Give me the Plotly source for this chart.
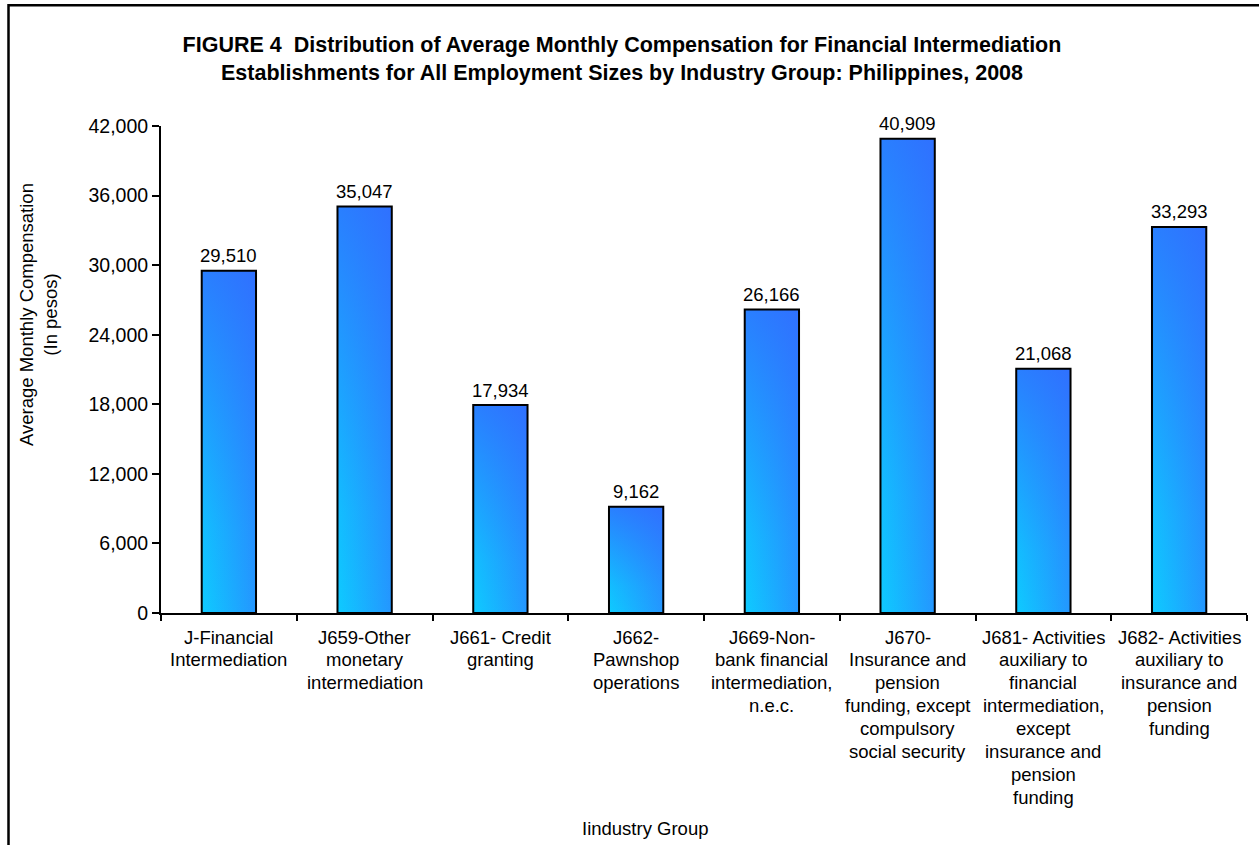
import plotly.graph_objects as go

# Industry groups (line breaks as printed under each bar)
categories = [
    "J-Financial<br>Intermediation",
    "J659-Other<br>monetary<br>intermediation",
    "J661- Credit<br>granting",
    "J662-<br>Pawnshop<br>operations",
    "J669-Non-<br>bank financial<br>intermediation,<br>n.e.c.",
    "J670-<br>Insurance and<br>pension<br>funding, except<br>compulsory<br>social security",
    "J681- Activities<br>auxiliary to<br>financial<br>intermediation,<br>except<br>insurance and<br>pension<br>funding",
    "J682- Activities<br>auxiliary to<br>insurance and<br>pension<br>funding",
]
compensation = [29510, 35047, 17934, 9162, 26166, 40909, 21068, 33293]
y_ticks = [0, 6000, 12000, 18000, 24000, 30000, 36000, 42000]

title_lines = [
    "FIGURE 4\u00a0\u00a0Distribution of Average Monthly Compensation for Financial Intermediation",
    "Establishments for All Employment Sizes by Industry Group: Philippines, 2008",
]
y_title = "Average Monthly Compensation<br>(In pesos)"
x_title = "Iindustry Group"

# Canvas and plot-area geometry (pixels)
W, H = 1259, 845
M_L, M_R, M_T, M_B = 161, 12, 126, 232
PW = W - M_L - M_R
PH = H - M_T - M_B

FONT = "Liberation Sans, Arial, sans-serif"
FS = 18.5
BAR_W = 0.4
C_LOW = "#0ecbff"
C_MID = "#2496ff"


def paper_x(px):
    return (px - M_L) / PW


def paper_y(py):
    return (H - M_B - py) / PH


fig = go.Figure()

for i, v in enumerate(compensation):
    xs = [i - BAR_W / 2, i - BAR_W / 2, i + BAR_W / 2, i + BAR_W / 2, i - BAR_W / 2]
    ys = [0, v, v, 0, 0]
    # base layer: left-to-right shading
    fig.add_trace(go.Scatter(
        x=xs, y=ys, mode="lines", fill="toself",
        line=dict(width=0, color="rgba(0,0,0,0)"),
        fillgradient=dict(type="horizontal",
                          colorscale=[[0, C_LOW], [1, C_MID]]),
        hoverinfo="skip", showlegend=False,
    ))
    # top layer: bottom-to-top deepening plus the outline
    fig.add_trace(go.Scatter(
        x=xs, y=ys, mode="lines", fill="toself",
        line=dict(width=2, color="black"),
        fillgradient=dict(type="vertical",
                          colorscale=[[0, "rgba(52,98,255,0)"],
                                      [0.25, "rgba(52,98,255,0.12)"],
                                      [1, "rgba(52,98,255,0.72)"]]),
        name=categories[i].replace("<br>", " "),
        hovertemplate="%{text}<extra></extra>",
        text=[f"{v:,}"] * 5,
        showlegend=False,
    ))

annotations = []

# value labels above bars
for i, v in enumerate(compensation):
    annotations.append(dict(
        x=i, y=v, xref="x", yref="y", text=f"{v:,}", showarrow=False,
        xanchor="center", yanchor="middle", yshift=15,
        font=dict(family=FONT, size=FS, color="black"),
    ))

# category labels, one annotation per printed line
LINE_GAP = 22.9
FIRST_LINE = 637
for i, label in enumerate(categories):
    for k, line in enumerate(label.split("<br>")):
        annotations.append(dict(
            x=i, xref="x", y=paper_y(FIRST_LINE + k * LINE_GAP), yref="paper",
            text=line, showarrow=False, xanchor="center", yanchor="middle",
            font=dict(family=FONT, size=FS, color="black"),
        ))

# axis titles
annotations.append(dict(
    x=paper_x(38), y=paper_y(315), xref="paper", yref="paper",
    text=y_title, textangle=-90, showarrow=False,
    xanchor="center", yanchor="middle",
    font=dict(family=FONT, size=FS, color="black"),
))
annotations.append(dict(
    x=paper_x(645), y=paper_y(828), xref="paper", yref="paper",
    text=x_title, showarrow=False, xanchor="center", yanchor="middle",
    font=dict(family=FONT, size=FS, color="black"),
))

# outer chart frame
shapes = [dict(
    type="rect", xref="paper", yref="paper",
    x0=paper_x(8.5), y0=paper_y(5.3), x1=paper_x(1290), y1=paper_y(880),
    line=dict(color="black", width=2.5), fillcolor="rgba(0,0,0,0)", layer="above",
)]

fig.update_layout(
    width=W, height=H,
    margin=dict(l=M_L, r=M_R, t=M_T, b=M_B, pad=0),
    paper_bgcolor="white", plot_bgcolor="white",
    font=dict(family=FONT, size=FS, color="black"),
    title=dict(
        text="<br>".join(f"<b>{t}</b>" for t in title_lines),
        x=622 / W, xanchor="center", xref="container",
        y=1 - 52 / H, yanchor="middle", yref="container",
        font=dict(family=FONT, size=21.5, color="black"),
    ),
    xaxis=dict(
        range=[-0.5, len(categories) - 0.5],
        tickvals=[b - 0.5 for b in range(len(categories) + 1)],
        ticktext=[""] * (len(categories) + 1),
        showticklabels=False,
        ticks="outside", ticklen=6, tickwidth=2, tickcolor="black",
        showline=True, linecolor="black", linewidth=2,
        showgrid=False, zeroline=False, fixedrange=True,
    ),
    yaxis=dict(
        range=[0, 42000], tickvals=y_ticks,
        ticktext=[f"{t:,}" for t in y_ticks],
        ticks="outside", ticklen=7, tickwidth=2, tickcolor="black",
        showline=True, linecolor="black", linewidth=2,
        showgrid=False, zeroline=False, fixedrange=True,
        tickfont=dict(family=FONT, size=19.5, color="black"),
    ),
    annotations=annotations,
    shapes=shapes,
)

fig.write_html("out.html")
